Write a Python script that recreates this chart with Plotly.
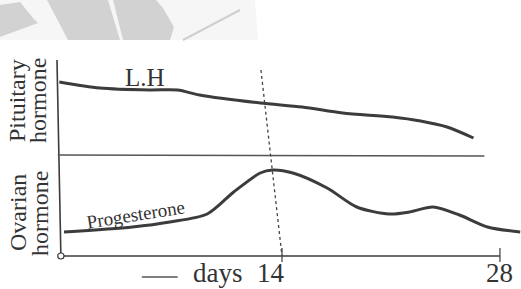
import plotly.graph_objects as go

# ---- data (days on x, arbitrary hormone level on y) ----
days_lh = [-0.3, 2.3, 5.5, 7.3, 8.7, 12.6, 15.3, 17.9, 21.1, 22.9, 24.6, 26.3]
lh_level = [174, 168, 166, 166, 161, 153, 149, 143, 139, 135, 129, 118]

days_prog = [0.0, 4.4, 6.8, 9.2, 10.9, 12.6, 13.4, 14.7, 16.9, 18.8, 20.9, 22.2, 23.7, 25.4, 27.2, 29.3]
prog_level = [24, 29, 34, 42, 64, 83, 86, 83, 68, 49, 42, 44, 49, 41, 29, 24]

tick_days = [14, 28]
tick_labels = ["14", "28"]

W, H = 521, 289
X0, XS = 64.0, 15.57   # pixel of day 0, pixels per day
XMIN, XMAX = (0 - X0) / XS, (W - X0) / XS
YMIN, YMAX = -33, 256

INK = "#3c3c3c"
SERIF = "Liberation Serif, Times New Roman, serif"

fig = go.Figure()
fig.add_trace(go.Scatter(x=days_lh, y=lh_level, mode="lines",
                         line=dict(color=INK, width=3, shape="spline", smoothing=0.8),
                         hoverinfo="skip", showlegend=False))
fig.add_trace(go.Scatter(x=days_prog, y=prog_level, mode="lines",
                         line=dict(color=INK, width=3, shape="spline", smoothing=0.8),
                         hoverinfo="skip", showlegend=False))

shapes = []
def P(px, py):
    return px / W, 1 - py / H

# watermark polygons at the top (paper coords)
def poly(pts, color):
    path = "M " + " L ".join(f"{P(x, y)[0]:.4f},{P(x, y)[1]:.4f}" for x, y in pts) + " Z"
    shapes.append(dict(type="path", xref="paper", yref="paper", path=path,
                       fillcolor=color, line=dict(width=0), layer="below"))

poly([(0, 0), (255, 0), (258, 40), (0, 40)], "#f6f6f6")
poly([(0, 5), (20, 2), (33, 18), (38, 23), (0, 37)], "#d2d2d2")
poly([(47, 0), (108, 0), (120, 40), (68, 40)], "#d2d2d2")
poly([(113, 0), (156, 0), (163, 8), (174, 27), (170, 40), (123, 40)], "#d2d2d2")
shapes.append(dict(type="line", xref="paper", yref="paper",
                   x0=P(240, 10)[0], y0=P(240, 10)[1], x1=P(183, 40)[0], y1=P(183, 40)[1],
                   line=dict(color="#cfcfcf", width=2), layer="below"))

# axes drawn as lines in data coordinates
shapes.append(dict(type="line", xref="x", yref="y", x0=-0.45, y0=196, x1=-0.2, y1=0,
                   line=dict(color=INK, width=1.6)))
shapes.append(dict(type="line", xref="x", yref="y", x0=-0.2, y0=0, x1=28.0, y1=0,
                   line=dict(color=INK, width=1.4)))
shapes.append(dict(type="line", xref="x", yref="y", x0=-0.4, y0=101, x1=27.0, y1=100,
                   line=dict(color="#555555", width=1.4)))
for d in tick_days:
    shapes.append(dict(type="line", xref="x", yref="y", x0=d, y0=8, x1=d, y1=-6,
                       line=dict(color=INK, width=1.2)))
# origin circle
shapes.append(dict(type="circle", xref="x", yref="y", x0=-0.4, y0=-3, x1=0.0, y1=3,
                   line=dict(color=INK, width=1.2), fillcolor="white"))
# dotted line at ovulation
shapes.append(dict(type="line", xref="x", yref="y", x0=12.65, y0=186, x1=14.0, y1=0,
                   line=dict(color="#444444", width=1.3, dash="dot")))
# dash before "days"
shapes.append(dict(type="line", xref="x", yref="y", x0=5.0, y0=-21, x1=7.3, y1=-21,
                   line=dict(color="#555555", width=1.3)))

ann = []
def text(x, y, s, size, angle=0, color="#333333"):
    ann.append(dict(x=x, y=y, xref="x", yref="y", text=s, showarrow=False,
                    textangle=angle, font=dict(family=SERIF, size=size, color=color),
                    xanchor="center", yanchor="middle"))

text(5.2, 179, "L.H", 25)
text(4.6, 42, "Progesterone", 19, angle=-9)
text(9.9, -17, "days", 27)
for d, s in zip(tick_days, tick_labels):
    text(d - 0.7 if d == 14 else d, -17, s, 27)
text((17 - X0) / XS, 256 - 101, "Pituitary", 24, angle=-90)
text((38 - X0) / XS, 256 - 101, "hormone", 24, angle=-90)
text((18 - X0) / XS, 256 - 213, "Ovarian", 24, angle=-90)
text((40 - X0) / XS, 256 - 214, "hormone", 24, angle=-90)

fig.update_layout(
    width=W, height=H, margin=dict(l=0, r=0, t=0, b=0),
    paper_bgcolor="white", plot_bgcolor="white",
    xaxis=dict(range=[XMIN, XMAX], visible=False, fixedrange=True),
    yaxis=dict(range=[YMIN, YMAX], visible=False, fixedrange=True),
    shapes=shapes, annotations=ann, showlegend=False,
)
fig.write_html("out.html", config={"displayModeBar": False},
               post_script="document.body.style.margin='0';document.body.style.overflow='hidden';")
